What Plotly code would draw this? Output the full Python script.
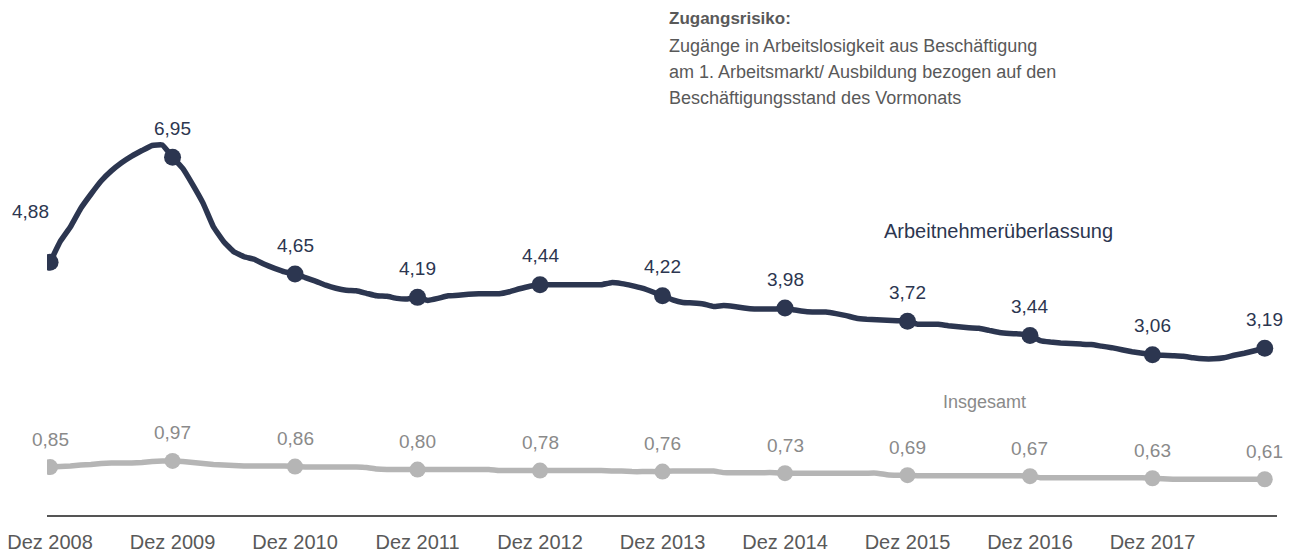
import plotly.graph_objects as go

# Monthly values Dez 2008 .. Nov 2018 (index 0 = Dez 2008)
arbeitnehmerueberlassung = [
    4.88, 5.29, 5.58, 5.94, 6.22, 6.48, 6.68, 6.84, 6.97, 7.08, 7.18, 7.19, 6.95,
    6.73, 6.40, 6.04, 5.58, 5.29, 5.09, 4.99, 4.94, 4.84, 4.76, 4.69, 4.65,
    4.58, 4.51, 4.43, 4.37, 4.33, 4.32, 4.27, 4.22, 4.21, 4.17, 4.16, 4.19,
    4.13, 4.17, 4.22, 4.23, 4.25, 4.26, 4.26, 4.26, 4.30, 4.36, 4.41, 4.44,
    4.44, 4.44, 4.44, 4.44, 4.44, 4.44, 4.48, 4.46, 4.42, 4.37, 4.30, 4.22,
    4.14, 4.09, 4.08, 4.06, 4.01, 4.03, 4.01, 3.98, 3.96, 3.96, 3.96, 3.98,
    3.94, 3.91, 3.90, 3.90, 3.87, 3.83, 3.78, 3.76, 3.75, 3.74, 3.73, 3.72,
    3.66, 3.66, 3.66, 3.63, 3.61, 3.59, 3.58, 3.54, 3.50, 3.48, 3.47, 3.44,
    3.34, 3.31, 3.29, 3.28, 3.27, 3.26, 3.23, 3.20, 3.16, 3.12, 3.09, 3.06,
    3.05, 3.04, 3.03, 3.00, 2.98, 2.98, 3.00, 3.05, 3.09, 3.14, 3.19,
]
insgesamt = [
    0.85, 0.86, 0.87, 0.89, 0.90, 0.92, 0.93, 0.93, 0.93, 0.94, 0.96, 0.97, 0.97,
    0.96, 0.94, 0.92, 0.90, 0.89, 0.88, 0.87, 0.87, 0.87, 0.87, 0.87, 0.86,
    0.85, 0.85, 0.85, 0.85, 0.85, 0.85, 0.84, 0.81, 0.80, 0.80, 0.80, 0.80,
    0.80, 0.80, 0.80, 0.80, 0.80, 0.80, 0.80, 0.78, 0.78, 0.78, 0.78, 0.78,
    0.78, 0.78, 0.78, 0.78, 0.78, 0.78, 0.77, 0.77, 0.76, 0.76, 0.76, 0.76,
    0.77, 0.77, 0.77, 0.77, 0.77, 0.74, 0.74, 0.74, 0.74, 0.74, 0.74, 0.73,
    0.73, 0.73, 0.73, 0.73, 0.73, 0.73, 0.73, 0.73, 0.73, 0.70, 0.69, 0.69,
    0.68, 0.68, 0.68, 0.68, 0.68, 0.68, 0.68, 0.68, 0.68, 0.68, 0.68, 0.67,
    0.64, 0.64, 0.64, 0.64, 0.64, 0.64, 0.64, 0.64, 0.64, 0.64, 0.64, 0.63,
    0.62, 0.61, 0.61, 0.61, 0.61, 0.61, 0.61, 0.61, 0.61, 0.61, 0.61,
]
months = list(range(len(arbeitnehmerueberlassung)))
marker_idx = [0, 12, 24, 36, 48, 60, 72, 84, 96, 108, 119]
tick_vals = [0, 12, 24, 36, 48, 60, 72, 84, 96, 108]
tick_text = ["Dez 2008", "Dez 2009", "Dez 2010", "Dez 2011", "Dez 2012",
             "Dez 2013", "Dez 2014", "Dez 2015", "Dez 2016", "Dez 2017"]

DARK = "#2c3650"
GRAY_LINE = "#b5b5b5"
GRAY_TEXT = "#8a8a8a"
AX_TEXT = "#595959"
FONT = "Liberation Sans, Arial, sans-serif"

fig = go.Figure()
fig.add_trace(go.Scatter(x=months, y=insgesamt, mode="lines",
                         line=dict(color=GRAY_LINE, width=5.5, shape="spline", smoothing=0.3),
                         hoverinfo="skip", showlegend=False))
fig.add_trace(go.Scatter(x=marker_idx, y=[insgesamt[i] for i in marker_idx], mode="markers",
                         marker=dict(color=GRAY_LINE, size=16), showlegend=False))
fig.add_trace(go.Scatter(x=months, y=arbeitnehmerueberlassung, mode="lines",
                         line=dict(color=DARK, width=5.5, shape="spline", smoothing=0.3),
                         hoverinfo="skip", showlegend=False))
fig.add_trace(go.Scatter(x=marker_idx, y=[arbeitnehmerueberlassung[i] for i in marker_idx],
                         mode="markers", marker=dict(color=DARK, size=17), showlegend=False))

def fmt(v):
    return f"{v:.2f}".replace(".", ",")

annotations = []
for k, i in enumerate(marker_idx):
    v = arbeitnehmerueberlassung[i]
    xs, ys = (-20, 51) if k == 0 else (0, 29)
    annotations.append(dict(x=i, y=v, text=fmt(v), showarrow=False, xshift=xs, yshift=ys,
                            font=dict(family=FONT, size=19, color=DARK)))
    g = insgesamt[i]
    annotations.append(dict(x=i, y=g, text=fmt(g), showarrow=False, yshift=28,
                            font=dict(family=FONT, size=19, color=GRAY_TEXT)))

# plot area (page pixels): x 47..1277, y 100..515
annotations.append(dict(x=(998 - 47) / 1230, y=(515 - 231) / 415, xref="paper", yref="paper",
                        text="Arbeitnehmerüberlassung", showarrow=False,
                        xanchor="center", yanchor="middle",
                        font=dict(family=FONT, size=20, color=DARK)))
annotations.append(dict(x=(984 - 47) / 1230, y=(515 - 402) / 415, xref="paper", yref="paper",
                        text="Insgesamt", showarrow=False, xanchor="center", yanchor="middle",
                        font=dict(family=FONT, size=18, color=GRAY_TEXT)))

title_lines = ["<b>Zugangsrisiko:</b>",
               "Zugänge in Arbeitslosigkeit aus Beschäftigung",
               "am 1. Arbeitsmarkt/ Ausbildung bezogen auf den",
               "Beschäftigungsstand des Vormonats"]
title_y = [19, 46, 72, 98]
for t, yy in zip(title_lines, title_y):
    annotations.append(dict(x=(667 - 47) / 1230, y=(515 - yy) / 415, xref="paper", yref="paper",
                            text=t, showarrow=False, xanchor="left", yanchor="middle",
                            font=dict(family=FONT, size=18 if not t.startswith("<b>") else 17,
                                      color="#595959")))

# page has an 8px body margin, so the figure is 8px smaller than the window
fig.update_layout(
    width=1291, height=545,
    margin=dict(l=39, r=22, t=92, b=38, autoexpand=False),
    paper_bgcolor="white", plot_bgcolor="white",
    annotations=annotations,
    showlegend=False,
    xaxis=dict(range=[-0.3, 120.2], tickvals=tick_vals, ticktext=tick_text,
               showgrid=False, zeroline=False, showline=True, linecolor="#555555", linewidth=2,
               ticks="", tickfont=dict(family=FONT, size=20, color=AX_TEXT),
               ticklabelstandoff=8, ticklabeloverflow="allow",
               automargin=False, fixedrange=True),
    yaxis=dict(range=[-0.094, 8.075], visible=False, showgrid=False, zeroline=False,
               automargin=False, fixedrange=True),
)

fig.write_html("out.html")
